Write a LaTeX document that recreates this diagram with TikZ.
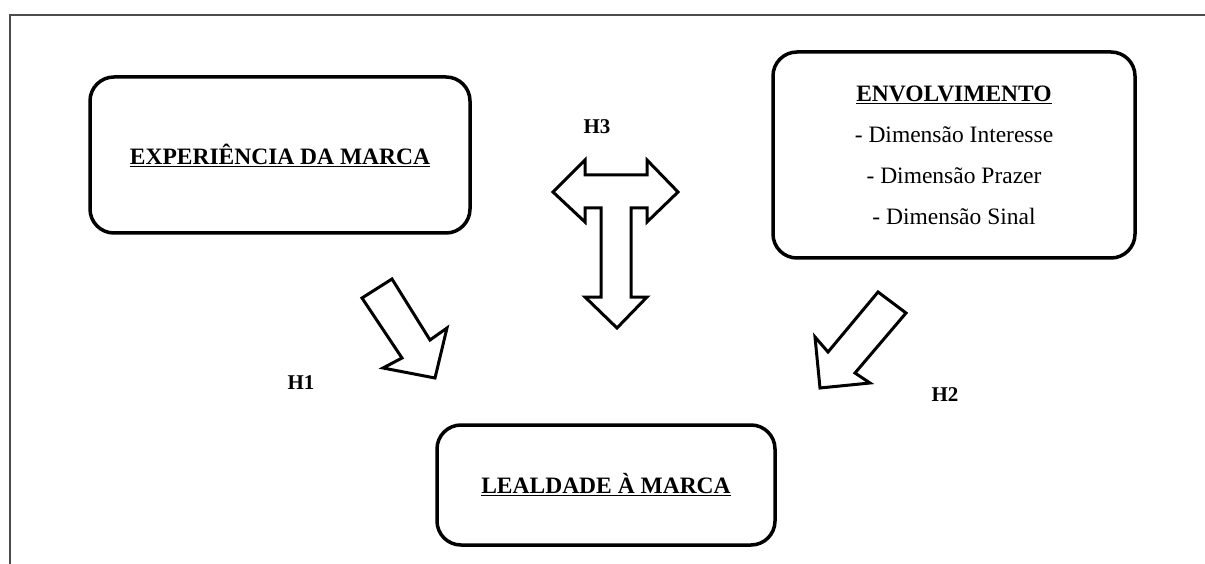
\documentclass[tikz,border=0pt]{standalone}
\usepackage{fontspec}
\setmainfont{Liberation Serif}
\usetikzlibrary{positioning}

\tikzset{
  caixa/.style={draw, line width=3.5pt, rounded corners=24pt, align=center, font=\fontsize{23.5}{27}\selectfont},
  seta/.style={draw, line width=3pt, line join=miter, fill=white},
  hip/.style={font=\fontsize{21}{25}\selectfont\bfseries},
}

\begin{document}
\begin{tikzpicture}[x=1pt,y=-1pt]
\useasboundingbox (0,0) rectangle (1205,564);

% moldura
\draw[line width=1.5pt, black!70] (1205,15) -- (10,15) -- (10,564);

\node[caixa, minimum width=380pt, minimum height=156pt] (exp) at (280,155) {\underline{\textbf{EXPERIÊNCIA DA MARCA}}};
\node[caixa, minimum width=362pt, minimum height=206pt] (env) at (954,155) {\underline{\textbf{ENVOLVIMENTO}}\\[14pt] - Dimensão Interesse\\[14pt] - Dimensão Prazer\\[14pt] - Dimensão Sinal};
\node[caixa, minimum width=338pt, minimum height=120pt] (leal) at (606,485) {\underline{\textbf{LEALDADE À MARCA}}};

\node[hip] (h1) at (301,383) {H1};
\node[hip] (h2) at (945,395) {H2};
\node[hip] (h3) at (597,127) {H3};

% setas
\draw[seta] (553,192) -- (585,160) -- (585,175) -- (647,175) -- (647,160) -- (678,192) -- (647,222) -- (647,208) -- (631,208) -- (631,297) -- (647,297) -- (617,328) -- (585,297) -- (601,297) -- (601,208) -- (585,208) -- (585,222) -- cycle;
\draw[seta] (362,298) -- (392,279) -- (430,340) -- (447,328) -- (435,378) -- (383,368) -- (402,358) -- cycle;
\draw[seta] (878,292) -- (906,313) -- (855,373) -- (870,383) -- (820,388) -- (815,337) -- (828,352) -- cycle;

\end{tikzpicture}
\end{document}
